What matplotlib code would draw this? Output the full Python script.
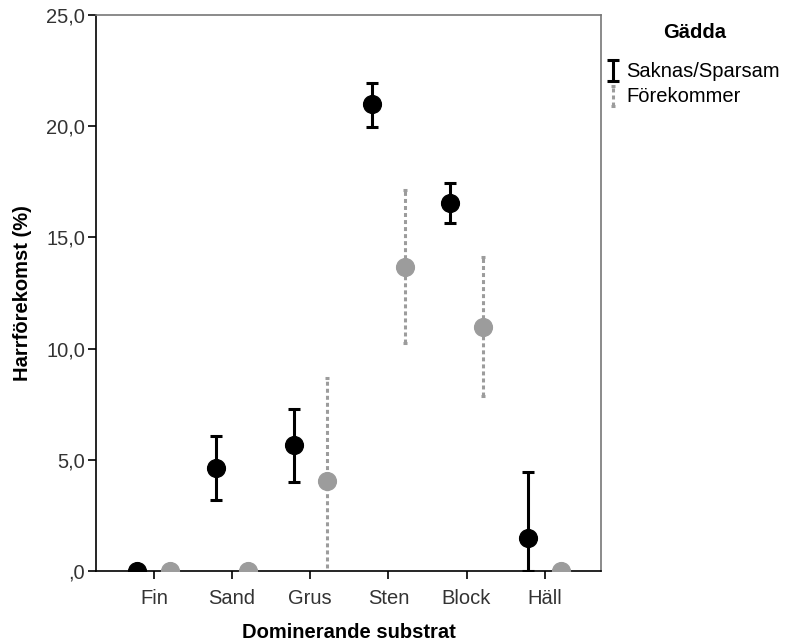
import numpy as np
import matplotlib
matplotlib.use("Agg")
import matplotlib.pyplot as plt

plt.rcParams['font.family'] = ['Liberation Sans', 'DejaVu Sans']

categories = ["Fin", "Sand", "Grus", "Sten", "Block", "Häll"]

# Saknas/Sparsam (black)
mean_a = [0.0, 4.63, 5.67, 20.98, 16.55, 1.48]
low_a = [0.0, 3.19, 4.00, 19.96, 15.65, 0.0]
high_a = [0.0, 6.07, 7.28, 21.94, 17.45, 4.45]

# Förekommer (grey)
mean_b = [0.0, 0.0, 4.05, 13.67, 10.97, 0.0]
low_b = [0.0, 0.0, -0.5, 10.25, 7.87, 0.0]
high_b = [0.0, 0.0, 8.68, 17.13, 14.12, 0.0]

yticks = [0, 5, 10, 15, 20, 25]
ytick_labels = [",0", "5,0", "10,0", "15,0", "20,0", "25,0"]

x = np.arange(len(categories))
off = 0.21
grey = "#9c9c9c"

fig = plt.figure(figsize=(7.86, 6.42), dpi=100)
ax = fig.add_axes([96 / 786, 1 - 571 / 642, 505 / 786, 556 / 642])

ma, la, ha = np.array(mean_a), np.array(low_a), np.array(high_a)
mb, lb, hb = np.array(mean_b), np.array(low_b), np.array(high_b)

# only draw bars where there is spread
sa = ha - la > 0
sb = hb - lb > 0

eb1 = ax.errorbar(x[sa] - off, ma[sa], yerr=[ma[sa] - la[sa], ha[sa] - ma[sa]],
                  fmt='none', ecolor='black', elinewidth=2.2, capsize=4, capthick=2.2,
                  label="Saknas/Sparsam")
eb2 = ax.errorbar(x[sb] + off, mb[sb], yerr=[mb[sb] - lb[sb], hb[sb] - mb[sb]],
                  fmt='none', ecolor=grey, elinewidth=2.2, capsize=1.2, capthick=2.2,
                  label="Förekommer")
eb2[2][0].set_linestyle((0, (1.3, 1.0)))

ax.plot(x - off, mean_a, 'o', color='black', markersize=12.8, zorder=5)
ax.plot(x + off, mean_b, 'o', color=grey, markersize=12.8, zorder=5)

ax.set_xlim(-0.74, 5.72)
ax.set_ylim(0, 25)
ax.set_xticks(x)
ax.set_xticklabels(categories)
ax.set_yticks(yticks)
ax.set_yticklabels(ytick_labels)
ax.tick_params(axis='both', labelsize=14.5, labelcolor='#333333', length=6, width=1.2)
ax.tick_params(axis='x', pad=7)
ax.tick_params(axis='y', pad=2)

for s in ['left', 'bottom']:
    ax.spines[s].set_color('black')
    ax.spines[s].set_linewidth(1.2)
for s in ['top', 'right']:
    ax.spines[s].set_color('#777777')
    ax.spines[s].set_linewidth(1.2)

ax.set_xlabel("Dominerande substrat", fontsize=14.5, fontweight='bold', labelpad=11)
ax.set_ylabel("Harrförekomst (%)", fontsize=14.5, fontweight='bold', labelpad=10)

fig.text(695 / 786, 1 - 33 / 642, "Gädda", fontsize=14.5, fontweight='bold',
         ha='center', va='center')
leg = fig.legend(handles=[eb1, eb2], labels=["Saknas/Sparsam", "Förekommer"],
                 loc='upper left', bbox_to_anchor=(0.763, 0.916),
                 frameon=False, fontsize=14.5, handlelength=0.5, handleheight=0.5,
                 handletextpad=0.4, labelspacing=0.3, borderaxespad=0)

fig.savefig("out.png", dpi=100)
